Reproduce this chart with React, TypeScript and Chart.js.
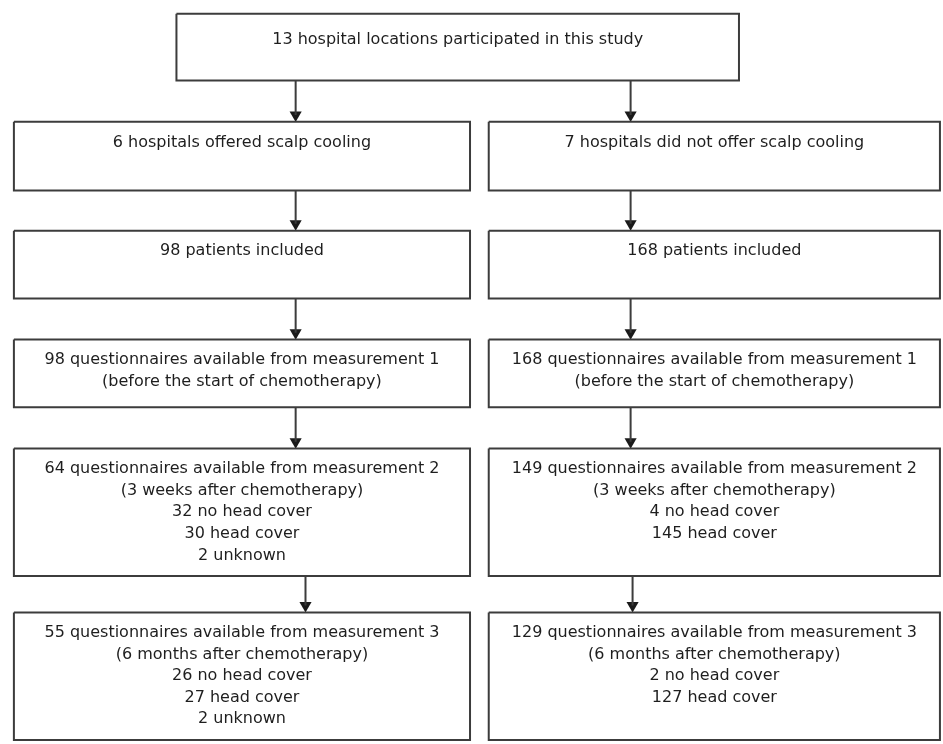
import React, { useEffect, useRef } from "react";
import { Chart, registerables } from "chart.js";

Chart.register(...registerables);

// ---- content ----
const topLabel = ["13 hospital locations participated in this study"];
const leftLabels = [
  ["6 hospitals offered scalp cooling"],
  ["98 patients included"],
  ["98 questionnaires available from measurement 1", "(before the start of chemotherapy)"],
  [
    "64 questionnaires available from measurement 2",
    "(3 weeks after chemotherapy)",
    "32 no head cover",
    "30 head cover",
    "2 unknown",
  ],
  [
    "55 questionnaires available from measurement 3",
    "(6 months after chemotherapy)",
    "26 no head cover",
    "27 head cover",
    "2 unknown",
  ],
];
const rightLabels = [
  ["7 hospitals did not offer scalp cooling"],
  ["168 patients included"],
  ["168 questionnaires available from measurement 1", "(before the start of chemotherapy)"],
  [
    "149 questionnaires available from measurement 2",
    "(3 weeks after chemotherapy)",
    "4 no head cover",
    "145 head cover",
  ],
  [
    "129 questionnaires available from measurement 3",
    "(6 months after chemotherapy)",
    "2 no head cover",
    "127 head cover",
  ],
];

// ---- layout (in canvas units) ----
const W = 943;
const H = 744;
const topBox = { x0: 172, x1: 743, y0: 7, y1: 75, textY: 33 };
const leftX = [7, 470];
const rightX = [489, 947];
const rowTop = [117, 228, 339, 450, 617];
const rowBottom = [187, 297, 408, 580, 747];
const firstLineOffset = 21;
const lineGap = 22;
const leftArrowX = [293, 293, 293, 293, 303];
const rightArrowX = [633, 633, 633, 633, 635];

const LINE = "#3c3c3c";
const TEXT = "#1e1e1e";
const HEAD = 7;

type Box = { x0: number; x1: number; y0: number; y1: number; lines: string[]; textY: number };

const boxes: Box[] = [
  { ...topBox, lines: topLabel },
  ...leftLabels.map((l, i) => ({
    x0: leftX[0], x1: leftX[1], y0: rowTop[i], y1: rowBottom[i], lines: l, textY: rowTop[i] + firstLineOffset,
  })),
  ...rightLabels.map((l, i) => ({
    x0: rightX[0], x1: rightX[1], y0: rowTop[i], y1: rowBottom[i], lines: l, textY: rowTop[i] + firstLineOffset,
  })),
];

type Arrow = { x: number; y0: number; y1: number };
const arrows: Arrow[] = [];
for (let i = 0; i < 5; i++) {
  const from = i === 0 ? topBox.y1 : rowBottom[i - 1];
  arrows.push({ x: leftArrowX[i], y0: from, y1: rowTop[i] });
  arrows.push({ x: rightArrowX[i], y0: from, y1: rowTop[i] });
}

const textPlugin = {
  id: "boxText",
  afterDatasetsDraw(chart: any) {
    const { ctx, scales } = chart;
    const xs = scales.x;
    const ys = scales.y;
    ctx.save();
    ctx.fillStyle = TEXT;
    ctx.font = "16px 'DejaVu Sans'";
    ctx.textAlign = "center";
    ctx.textBaseline = "middle";
    boxes.forEach((b) => {
      const cx = xs.getPixelForValue((b.x0 + b.x1) / 2);
      b.lines.forEach((t, k) => {
        ctx.fillText(t, cx, ys.getPixelForValue(b.textY + k * lineGap));
      });
    });
    ctx.restore();
  },
};

export default function App() {
  const ref = useRef<HTMLCanvasElement | null>(null);
  useEffect(() => {
    if (!ref.current) return;
    const datasets: any[] = [];
    boxes.forEach((b) => {
      datasets.push({
        data: [
          { x: b.x0, y: b.y0 },
          { x: b.x1, y: b.y0 },
          { x: b.x1, y: b.y1 },
          { x: b.x0, y: b.y1 },
          { x: b.x0, y: b.y0 },
        ],
        showLine: true,
        borderColor: LINE,
        borderWidth: 2,
        borderJoinStyle: "miter",
        pointRadius: 0,
        tension: 0,
        clip: false,
      });
    });
    arrows.forEach((a) => {
      datasets.push({
        data: [
          { x: a.x, y: a.y0 },
          { x: a.x, y: a.y1 - HEAD },
        ],
        showLine: true,
        borderColor: LINE,
        borderWidth: 2,
        pointRadius: 0,
        clip: false,
      });
      datasets.push({
        data: [{ x: a.x, y: a.y1 - HEAD }],
        showLine: false,
        pointStyle: "triangle",
        rotation: 180,
        pointRadius: HEAD,
        pointBackgroundColor: "#1a1a1a",
        pointBorderWidth: 0,
        pointBorderColor: "#1a1a1a",
        clip: false,
      });
    });
    const chart = new Chart(ref.current, {
      type: "scatter",
      data: { datasets },
      options: {
        animation: false,
        responsive: false,
        maintainAspectRatio: false,
        events: [],
        layout: { padding: 0 },
        plugins: { legend: { display: false }, tooltip: { enabled: false } },
        scales: {
          x: { type: "linear", min: 0, max: W, display: false },
          y: { type: "linear", min: 0, max: H, reverse: true, display: false },
        },
      },
      plugins: [textPlugin],
    });
    return () => chart.destroy();
  }, []);
  return (
    <div style={{ position: "fixed", left: 0, top: 0, width: W, height: H, background: "#fff" }}>
      <canvas ref={ref} width={W} height={H} style={{ width: W, height: H, display: "block" }} />
    </div>
  );
}
